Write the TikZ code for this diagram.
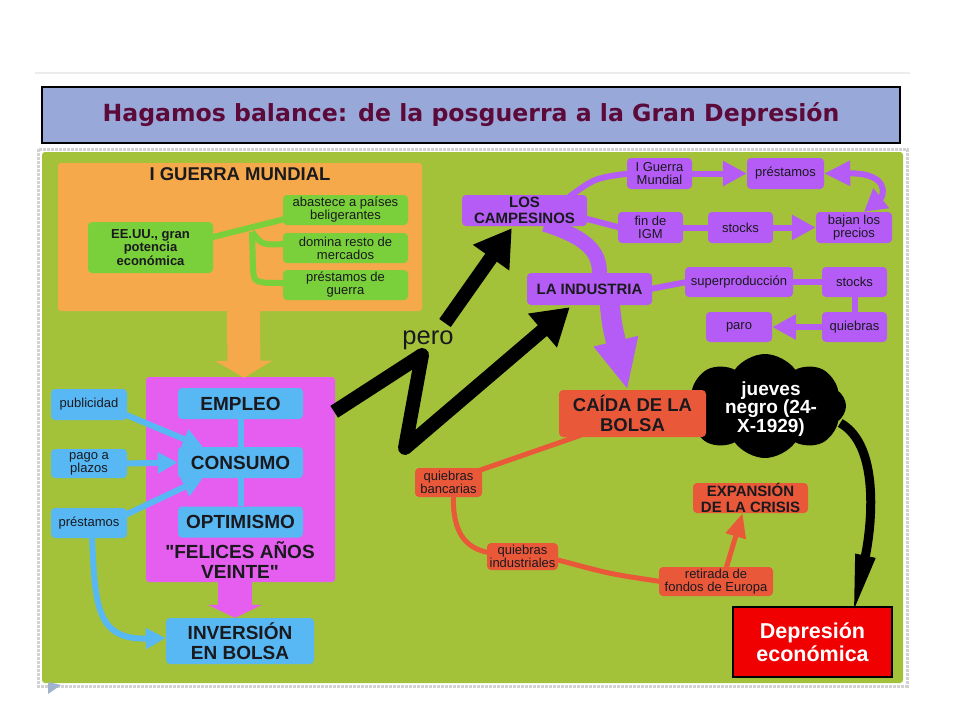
\documentclass[tikz,border=0pt]{standalone}
\usepackage{fontspec}
\setmainfont{Liberation Sans}
\newfontfamily\titlefont{DejaVu Sans}
\usetikzlibrary{arrows.meta,shapes.symbols,calc}
\pgfdeclarelayer{back}
\pgfdeclarelayer{conn}
\pgfdeclarelayer{front}
\pgfsetlayers{back,conn,main,front}
\definecolor{panel}{RGB}{163,194,58}
\definecolor{orangeB}{RGB}{245,169,74}
\definecolor{greenB}{RGB}{122,208,58}
\definecolor{magB}{RGB}{230,94,240}
\definecolor{blueB}{RGB}{88,184,244}
\definecolor{purB}{RGB}{180,92,245}
\definecolor{redB}{RGB}{234,88,58}
\definecolor{depB}{RGB}{240,0,0}
\definecolor{titleB}{RGB}{152,168,216}
\definecolor{titleT}{RGB}{92,10,58}
\definecolor{txt}{RGB}{25,25,30}
\tikzset{
  box/.style={rounded corners=4pt, inner sep=0pt, align=center, text=txt},
  smallf/.style={font=\fontsize{13}{13}\selectfont},
  gbox/.style={box, fill=greenB, smallf},
  bbox/.style={box, fill=blueB, smallf},
  bigb/.style={box, fill=blueB, font=\bfseries\fontsize{19}{20.5}\selectfont},
  pbox/.style={box, fill=purB, smallf},
  pbig/.style={box, fill=purB, font=\bfseries\fontsize{15}{16.5}\selectfont},
  rbox/.style={box, fill=redB, smallf},
  gline/.style={draw=greenB, line width=6},
  bline/.style={draw=blueB, line width=6},
  pline/.style={draw=purB, line width=6},
  rline/.style={draw=redB, line width=5},
  barrow/.style={bline, -{Triangle[width=20,length=20]}},
  parrow/.style={pline, -{Triangle[width=24,length=24]}},
  rarrow/.style={rline, -{Triangle[width=20,length=24]}},
  bigblack/.style={draw=black, line width=14, -{Triangle[width=42,length=36]}},
}
\begin{document}
\begin{tikzpicture}[x=1pt,y=-1pt]
\useasboundingbox (0,0) rectangle (960,720);
\begin{pgfonlayer}{back}
\fill[white] (0,0) rectangle (960,720);
\draw[gray!15, line width=2] (35,73) -- (910,73);
\draw[gray!35, densely dotted, line width=3] (38,149) rectangle (907,686);
\fill[panel, rounded corners=3] (42,152) rectangle (903,683);
\fill[color={rgb,255:red,160;green,178;blue,205}] (48,682) -- (61,685) -- (48,694) -- cycle;
% container blocks
\node[box, fill=orangeB, rounded corners=3pt, minimum width=364, minimum height=148] (war) at (240,237) {};
\node[box, fill=magB, rounded corners=3pt, minimum width=189, minimum height=205] (mag) at (240.5,479.5) {};
\end{pgfonlayer}

% title
\node[draw=black, line width=1.2, fill=titleB, minimum width=858, minimum height=56, inner sep=0,
      text=titleT, font=\titlefont\bfseries\fontsize{23.6}{26}\selectfont] (title) at (471,115)
      {Hagamos balance: de la posguerra a la Gran Depresión};

% I Guerra Mundial block
\node[font=\bfseries\fontsize{18.5}{20}\selectfont, text=txt, inner sep=0] (wart) at (240,174) {I GUERRA MUNDIAL};
\node[gbox, minimum width=125, minimum height=51, font=\bfseries\fontsize{13}{13.5}\selectfont] (eeuu) at (150.5,247.5) {EE.UU., gran\\potencia\\económica};
\node[gbox, minimum width=125, minimum height=30] (abast) at (345.5,210) {abastece a países\\beligerantes};
\node[gbox, minimum width=125, minimum height=30] (domina) at (345.5,248) {domina resto de\\mercados};
\node[gbox, minimum width=125, minimum height=30] (gprest) at (345.5,285) {préstamos de\\guerra};
\coordinate (gb) at (252,232);

% felices años veinte block
\node[bigb, minimum width=125, minimum height=31] (emp) at (240.5,403.5) {EMPLEO};
\node[bigb, minimum width=125, minimum height=31] (cons) at (240.5,462.5) {CONSUMO};
\node[bigb, minimum width=125, minimum height=31] (opt) at (240.5,522) {OPTIMISMO};
\node[font=\bfseries\fontsize{19}{20}\selectfont, text=txt, align=center, inner sep=0] (fel) at (240,560) {\textquotedbl FELICES AÑOS\\VEINTE\textquotedbl};
\node[bigb, minimum width=148, minimum height=46] (inv) at (240,641) {INVERSIÓN\\EN BOLSA};
\node[bbox, minimum width=76, minimum height=31] (pub) at (89,404.5) {publicidad};
\node[bbox, minimum width=76, minimum height=29] (pago) at (89,463.5) {pago a\\plazos};
\node[bbox, minimum width=76, minimum height=30] (bprest) at (89,523) {préstamos};

% purple
\node[pbig, minimum width=125, minimum height=31] (camp) at (524.5,210.5) {LOS\\CAMPESINOS};
\node[pbox, minimum width=65, minimum height=31] (igm) at (659.5,173.5) {I Guerra\\Mundial};
\node[pbox, minimum width=77, minimum height=31] (pprest) at (785.5,173.5) {préstamos};
\node[pbox, minimum width=65, minimum height=31] (fin) at (650.5,227.5) {fin de\\IGM};
\node[pbox, minimum width=65, minimum height=31] (stk1) at (740.5,227.5) {stocks};
\node[pbox, minimum width=76, minimum height=31] (bajan) at (854,227.5) {bajan los\\precios};
\node[pbig, minimum width=125, minimum height=32] (ind) at (589.5,289) {LA INDUSTRIA};
\node[pbox, minimum width=108, minimum height=30] (sup) at (739,282) {superproducción};
\node[pbox, minimum width=65, minimum height=30] (stk2) at (854.5,282) {stocks};
\node[pbox, minimum width=66, minimum height=30] (paro) at (739,327) {paro};
\node[pbox, minimum width=65, minimum height=30] (quie) at (854.5,327) {quiebras};

% red
\node[cloud, cloud puffs=8, cloud puff arc=110, aspect=1.5, fill=black, inner sep=0,
      minimum width=162, minimum height=104] (cloud) at (765,406) {};
\node[text=white, align=center, inner sep=0,
      font=\bfseries\fontsize{19}{18.5}\selectfont] (cloudt) at (771,409) {jueves\\negro (24-\\X-1929)};
\node[box, fill=redB, minimum width=147, minimum height=47, font=\bfseries\fontsize{18.5}{20}\selectfont] (caida) at (632.5,413.5) {CAÍDA DE LA\\BOLSA};
\node[rbox, minimum width=67, minimum height=29] (qbanc) at (448.5,482.5) {quiebras\\bancarias};
\node[rbox, minimum width=71, minimum height=27] (qind) at (522.5,556.5) {quiebras\\industriales};
\node[rbox, minimum width=114, minimum height=29] (retir) at (716,581.5) {retirada de\\fondos de Europa};
\node[box, fill=redB, minimum width=115, minimum height=30, font=\bfseries\fontsize{15}{15.5}\selectfont] (expan) at (750.5,498) {EXPANSIÓN\\DE LA CRISIS};
\node[draw=black, line width=1.3, fill=depB, minimum width=159, minimum height=70, inner sep=0,
      text=white, align=center, font=\bfseries\fontsize{21.5}{23}\selectfont] (dep) at (812.5,642) {Depresión\\económica};

\node[font=\fontsize{25.5}{26}\selectfont, text=txt, inner sep=0] (pero) at (428,340) {pero};
\coordinate (zz1) at (422,355);
\coordinate (zz2) at (405,448);
\coordinate (a1s) at (445,323);

\begin{pgfonlayer}{conn}
% green
\draw[gline] ($(eeuu.east)+(-2,-10)$) .. controls (245,229) .. ($(abast.west)+(2,9)$);
\draw[gline] (gb) .. controls (262,245) .. ($(domina.west)+(2,-4)$);
\draw[gline] (gb) -- (253,268) .. controls (254,283) .. ($(gprest.west)+(2,-2)$);
% big block arrows
\draw[draw=orangeB, line width=33, -{Triangle[width=56,length=17]}] ($(war.south)+(3.5,-1)$) -- ($(mag.north)+(3.5,1)$);
\draw[draw=magB, line width=34, -{Triangle[width=54,length=13]}] ($(mag.south)+(-5.5,-1)$) -- ($(inv.north)+(-5,0)$);
% blue
\draw[bline] (emp.south) -- (cons.north);
\draw[bline] (cons.south) -- (opt.north);
\draw[barrow] ($(pub.east)+(-2,10)$) -- ($(cons.north west)+(25,0)$);
\draw[barrow] ($(pago.east)+(-2,0)$) -- (cons.west);
\draw[barrow] ($(bprest.east)+(-2,-8)$) -- ($(cons.south west)+(25,0)$);
\draw[barrow] ($(bprest.south)+(3,-2)$) .. controls (95,605) and (96,640) .. ($(inv.west)+(0,-3)$);
% purple
\draw[pline] ($(camp.north east)+(-18,2)$) .. controls (595,178) .. ($(igm.west)+(2,0)$);
\draw[parrow] (igm.east) -- (pprest.west);
\draw[pline, {Triangle[width=24,length=22]}-{Triangle[width=24,length=26]}] ($(bajan.north)+(10,0)$) .. controls (884,196) and (890,173) .. (pprest.east);
\draw[pline] ($(camp.east)+(-2,8)$) -- ($(fin.west)+(2,0)$);
\draw[pline] (fin.east) -- (stk1.west);
\draw[parrow] (stk1.east) -- (bajan.west);
\draw[draw=purB, line width=15] ($(camp.south)+(20,-2)$) .. controls (588,238) and (600,252) .. ($(ind.north)+(10,2)$);
\draw[draw=purB, line width=20, -{Triangle[width=42,length=50]}] ($(ind.south)+(20,-3)$) .. controls (612,325) .. ($(caida.north)+(-5,0)$);
\draw[pline] ($(ind.east)+(-2,0)$) -- ($(sup.west)+(2,0)$);
\draw[pline] (sup.east) -- (stk2.west);
\draw[pline] (stk2.south) -- (quie.north);
\draw[parrow] (quie.west) -- (paro.east);
% red
\draw[rline] ($(caida.south west)+(22,-2)$) -- ($(qbanc.north east)+(-4,3)$);
\draw[rline] ($(qbanc.south)+(5,-2)$) .. controls (452,535) and (468,549) .. ($(qind.west)+(2,-4)$);
\draw[rline] ($(qind.east)+(-2,3)$) .. controls (610,574) .. ($(retir.west)+(2,0)$);
\draw[rarrow] ($(retir.north)+(10,2)$) -- ($(expan.south)+(-8,0)$);
% black
\draw[bigblack, line join=round] ($(mag.north east)+(-1,35)$) -- (zz1) -- (zz2) -- ($(ind.south west)+(43,2)$);
\draw[bigblack] (a1s) -- ($(camp.south west)+(50,2)$);
\end{pgfonlayer}
\begin{pgfonlayer}{front}
\draw[draw=black, line width=9, -{Triangle[width=18,length=62]}] ($(cloud.east)+(-6,17)$) .. controls (880,445) and (872,525) .. ($(dep.north)+(40,10)$);
\end{pgfonlayer}
\end{tikzpicture}
\end{document}
